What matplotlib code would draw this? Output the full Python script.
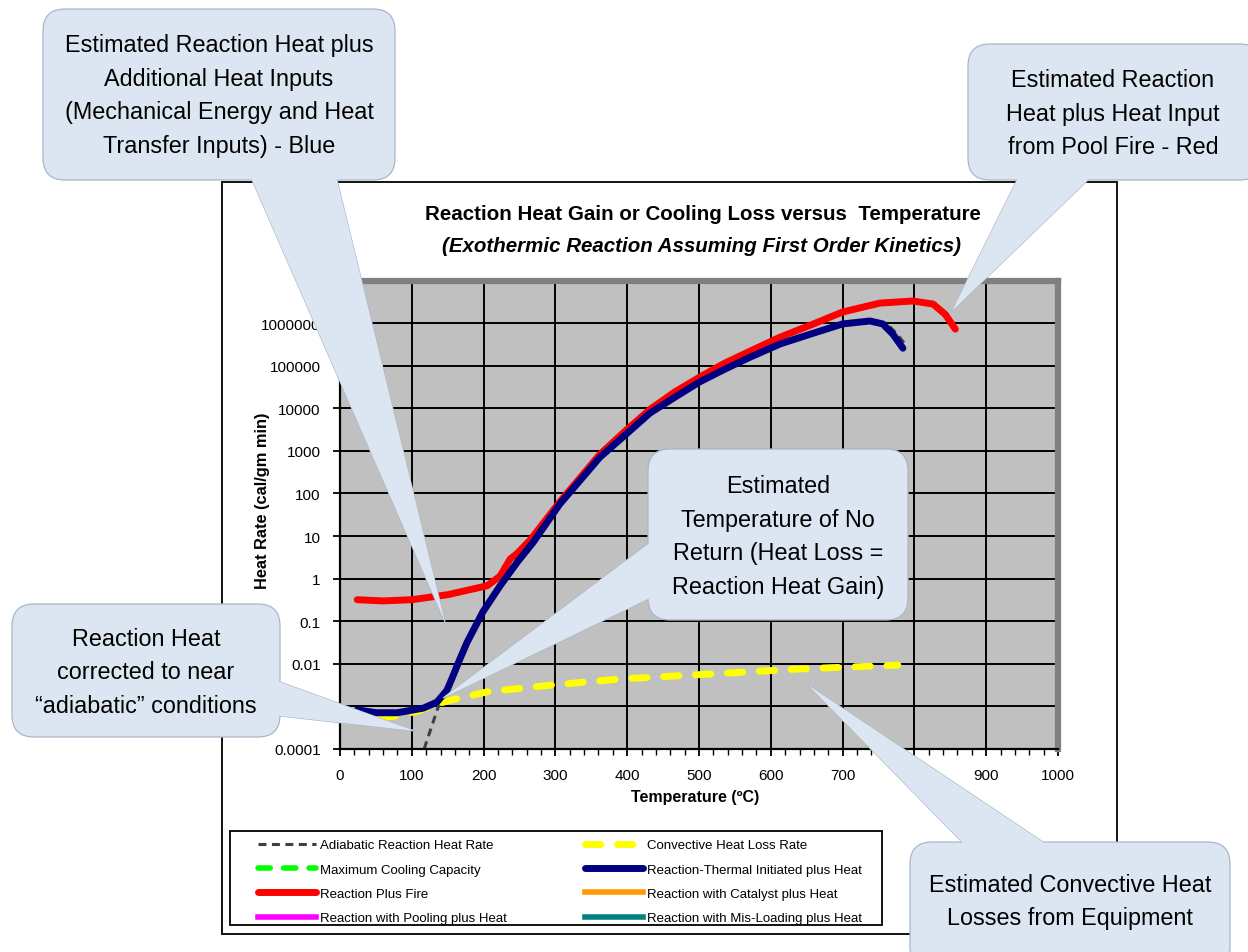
import numpy as np
import matplotlib
matplotlib.use("Agg")
import matplotlib.pyplot as plt
from matplotlib.patches import FancyBboxPatch, Polygon, Rectangle
from matplotlib.ticker import FixedLocator, MultipleLocator, LogLocator, NullFormatter

plt.rcParams['font.family'] = ['Liberation Sans', 'DejaVu Sans']

# ---- data (temperature in C, heat rate in cal/gm min) ----
fire_t = [24, 60, 100, 150, 205, 223, 237, 246, 265, 306, 362, 397, 432, 466, 501, 536,
          571, 613, 655, 700, 752, 798, 826, 843, 857]
fire_q = [0.32, 0.30, 0.32, 0.42, 0.68, 1.15, 2.9, 3.8, 8.1, 63, 830, 2900, 9500, 24000,
          54000, 115000, 219000, 468000, 891000, 1.82e6, 2.95e6, 3.3e6, 2.8e6, 1.6e6,
          7.2e5]

thermal_t = [24, 50, 80, 116, 135, 149, 157, 167, 177, 199, 223, 247, 269, 306, 362,
             397, 432, 466, 501, 536, 571, 613, 655, 700, 738, 756, 770, 784]
thermal_q = [8.3e-4, 7.1e-4, 7.1e-4, 9.1e-4, 1.26e-3, 2.4e-3, 5.0e-3, 0.013, 0.032,
             0.166, 0.68, 2.45, 7.1, 56, 710, 2340, 7800, 18000, 41700, 83000, 158000,
             324000, 550000, 955000, 1.12e6, 955000, 550000, 257000]

adiabatic_t = [112, 118, 139, 150, 157, 167, 177, 199, 223, 247, 269, 306, 362, 397, 432,
               501, 571, 613, 700, 745, 762, 776, 790]
adiabatic_q = [5e-5, 1.1e-4, 1.26e-3, 3.0e-3, 5.0e-3, 0.013, 0.032, 0.166, 0.68, 2.45,
               7.1, 56, 710, 2340, 7800, 41700, 158000, 324000, 955000, 1.1e6, 950000,
               550000, 275000]

convective_t = [56, 80, 110, 140, 150, 205, 297, 390, 519, 641, 777]
convective_q = [5.4e-4, 6.0e-4, 7.9e-4, 1.2e-3, 1.35e-3, 2.2e-3, 3.2e-3, 4.4e-3,
                5.8e-3, 7.6e-3, 9.3e-3]

# series shown only in the legend (no points inside the plotted range)
cooling_t, cooling_q = [], []
catalyst_t, catalyst_q = [], []
pooling_t, pooling_q = [], []
misload_t, misload_q = [], []

y_ticks = [1e-4, 1e-3, 1e-2, 1e-1, 1, 10, 100, 1000, 1e4, 1e5, 1e6]
y_labels = ["0.0001", "", "0.01", "0.1", "1", "10", "100", "1000", "10000", "100000",
            "1000000"]
x_ticks = [0, 100, 200, 300, 400, 500, 600, 700, 800, 900, 1000]

# ---- figure ----
W, H = 1248, 953
fig = plt.figure(figsize=(W / 100, H / 100), dpi=100)
fig.patch.set_facecolor("white")

def fx(px):
    return px / W

def fy(py):
    return 1 - py / H

ax = fig.add_axes([fx(340), fy(750), fx(1058) - fx(340), fy(281.5) - fy(750)])
ax.set_facecolor("#C0C0C0")
ax.set_yscale("log")
ax.set_xlim(0, 1000)
ax.set_ylim(1e-4, 1e7)
ax.set_axisbelow(True)

ax.xaxis.set_major_locator(FixedLocator(x_ticks))
ax.xaxis.set_minor_locator(MultipleLocator(20))
ax.yaxis.set_major_locator(FixedLocator(y_ticks + [1e7]))
ax.set_yticklabels(y_labels + [""])
ax.yaxis.set_minor_locator(LogLocator(base=10, subs=np.arange(2, 10)))
ax.yaxis.set_minor_formatter(NullFormatter())
ax.grid(True, which="major", color="black", linewidth=1.4)

ax.tick_params(axis="x", which="major", direction="out", length=5, width=1.3, labelsize=11, pad=9)
ax.tick_params(axis="x", which="minor", direction="out", length=4, width=1.0)
ax.tick_params(axis="y", which="major", direction="out", length=5, width=1.3, labelsize=11, pad=9)
ax.tick_params(axis="y", which="minor", direction="out", length=3, width=0.8)

for side in ["left", "bottom"]:
    ax.spines[side].set_color("black")
    ax.spines[side].set_linewidth(1.6)
for side in ["top", "right"]:
    ax.spines[side].set_color("#808080")
    ax.spines[side].set_linewidth(4.5)

ln_adiab, = ax.plot(adiabatic_t, adiabatic_q, color="#404040", lw=2.2,
                    linestyle=(0, (2.6, 1.8)), label="Adiabatic Reaction Heat Rate")
ln_cool, = ax.plot(cooling_t, cooling_q, color="#00FF00", lw=4,
                   linestyle=(0, (2.2, 2.4)), dash_capstyle="round",
                   label="Maximum Cooling Capacity")
ln_conv, = ax.plot(convective_t, convective_q, color="#FFFF00", lw=5,
                   linestyle=(0, (2.2, 2.4)), dash_capstyle="round",
                   label="Convective Heat Loss Rate")
ln_fire, = ax.plot(fire_t, fire_q, color="#FF0000", lw=5, solid_capstyle="round",
                   solid_joinstyle="round", label="Reaction Plus Fire")
ln_therm, = ax.plot(thermal_t, thermal_q, color="#000080", lw=5, solid_capstyle="round",
                    solid_joinstyle="round", label="Reaction-Thermal Initiated plus Heat")
ln_pool, = ax.plot(pooling_t, pooling_q, color="#FF00FF", lw=4,
                   label="Reaction with Pooling plus Heat")
ln_cat, = ax.plot(catalyst_t, catalyst_q, color="#FF9900", lw=4,
                  label="Reaction with Catalyst plus Heat")
ln_mis, = ax.plot(misload_t, misload_q, color="#008080", lw=4,
                  label="Reaction with Mis-Loading plus Heat")

handles = [ln_adiab, ln_cool, ln_fire, ln_pool, ln_conv, ln_therm, ln_cat, ln_mis]
leg = fig.legend(handles=handles, loc="upper left", ncol=2, frameon=False,
                 bbox_to_anchor=(fx(258), fy(840)), borderpad=0, borderaxespad=0,
                 fontsize=9.5, handlelength=4.4, handletextpad=0.3,
                 columnspacing=5.9, labelspacing=0.92)

# ---- overlay in pixel coordinates: frame, titles, callouts ----
ov = fig.add_axes([0, 0, 1, 1], zorder=10)
ov.set_xlim(0, W)
ov.set_ylim(H, 0)
ov.axis("off")

ov.add_patch(Rectangle((222, 183), 1117 - 222, 935 - 183, fill=False, ec="black", lw=1.3))
ov.add_patch(Rectangle((230, 832), 882 - 230, 926 - 832, fill=False, ec="black", lw=1.3))

ov.text(703, 214, "Reaction Heat Gain or Cooling Loss versus  Temperature", ha="center",
        va="center", fontsize=14.8, fontweight="bold")
ov.text(702, 246, "(Exothermic Reaction Assuming First Order Kinetics)", ha="center",
        va="center", fontsize=14.8, fontweight="bold", fontstyle="italic")
ov.text(695, 798, "Temperature (ºC)", ha="center", va="center", fontsize=11.5,
        fontweight="bold")
ov.text(263, 501, "Heat Rate (cal/gm min)", ha="center", va="center", fontsize=11.8,
        fontweight="bold", rotation=90)

FILL = "#DCE6F2"
EDGE = "#A9B7C6"

def callout(box, base, tip, text, center):
    x0, y0, x1, y1 = box
    tip = np.array(tip, dtype=float)
    pts = [np.array(b, dtype=float) for b in base]
    ov.add_patch(Polygon([pts[0], tip, pts[1]], closed=True, fc=FILL, ec=EDGE, lw=0.9))
    ov.add_patch(FancyBboxPatch((x0, y0), x1 - x0, y1 - y0,
                                boxstyle="round,pad=0,rounding_size=22",
                                fc=FILL, ec=EDGE, lw=0.9))
    inner = [p + (p - tip) / np.linalg.norm(p - tip) * 10 for p in pts]
    ov.add_patch(Polygon([inner[0], tip, inner[1]], closed=True, fc=FILL, ec="none"))
    ov.text(center[0], center[1], text, ha="center", va="center", fontsize=16.8,
            linespacing=1.61)

callout((43, 10, 395, 181), [(252, 181), (337, 181)], (445, 623),
        "Estimated Reaction Heat plus\nAdditional Heat Inputs\n"
        "(Mechanical Energy and Heat\nTransfer Inputs) - Blue", (219, 96))
callout((968, 45, 1262, 181), [(1017, 181), (1088, 181)], (952, 312),
        "Estimated Reaction\nHeat plus Heat Input\nfrom Pool Fire - Red", (1113, 114))
callout((648, 450, 908, 621), [(648, 545), (648, 600)], (443, 699),
        "Estimated\nTemperature of No\nReturn (Heat Loss =\nReaction Heat Gain)", (778, 537))
callout((12, 605, 280, 738), [(280, 683), (280, 717)], (415, 732),
        "Reaction Heat\ncorrected to near\n\u201cadiabatic\u201d conditions", (146, 673))
callout((910, 843, 1230, 970), [(962, 843), (1043, 843)], (808, 686),
        "Estimated Convective Heat\nLosses from Equipment", (1070, 902))

fig.savefig("out.png", dpi=100)
